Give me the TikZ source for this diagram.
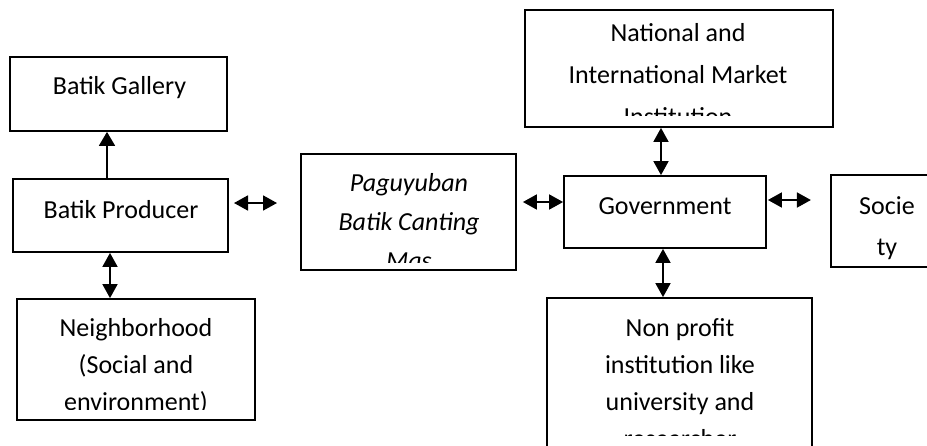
\documentclass[tikz,border=0pt]{standalone}
\usepackage{fontspec}
\setmainfont{Carlito}
\usepackage{tikz}
\usetikzlibrary{arrows.meta,calc}

\begin{document}
\begin{tikzpicture}[x=1pt,y=-1pt,
    box/.style={draw,line width=1.8pt,inner sep=0pt},
    lbl/.style={font=\fontsize{26}{38}\selectfont,align=center,inner sep=0pt},
    arr/.style={-{Triangle[width=16pt,length=14pt]},line width=1.8pt},
    darr/.style={{Triangle[width=15pt,length=14pt]}-{Triangle[width=15pt,length=14pt]},line width=1.8pt}]
  % Area
  \path[use as bounding box,clip] (0,0) rectangle (927,445);
  \fill[white] (0,0) rectangle (927,445);

  % Kolom kiri
  \node[box,minimum width=217pt,minimum height=74pt] (gallery) at (118.5,94) {};
  \node[lbl] (gallery-t) at (119.5,88) {Batik Gallery};
  \node[box,minimum width=215pt,minimum height=73pt] (producer) at (120.5,215.5) {};
  \node[lbl] (producer-t) at (121,210) {Batik Producer};
  \node[box,minimum width=238pt,minimum height=121pt] (nbh) at (136,359.5) {};
  \begin{scope}
    \clip (nbh.north west) rectangle ([shift={(0,-11)}]nbh.south east);
    \node[lbl,font=\fontsize{26}{37}\selectfont] (nbh-t) at (136,366)
      {Neighborhood\\(Social and\\environment)};
  \end{scope}

  % Paguyuban
  \node[box,minimum width=215pt,minimum height=116pt] (pag) at (408.5,212) {};
  \begin{scope}
    \clip (pag.north west) rectangle ([shift={(0,-8)}]pag.south east);
    \node[lbl,font=\fontsize{26}{39}\selectfont\itshape] (pag-t) at (409,222)
      {Paguyuban\\Batik Canting\\Mas};
  \end{scope}

  % Kolom kanan
  \node[box,minimum width=308pt,minimum height=117pt] (nat) at (679,68.5) {};
  \begin{scope}
    \clip (nat.north west) rectangle ([shift={(0,-12)}]nat.south east);
    \node[lbl,font=\fontsize{26}{42}\selectfont] (nat-t) at (678,75)
      {National and\\International Market\\Institution};
  \end{scope}
  \node[box,minimum width=202pt,minimum height=72pt] (gov) at (665,212) {};
  \node[lbl] (gov-t) at (665,206) {Government};
  \node[box,minimum width=99pt,minimum height=92pt] (soc) at (880.5,221) {};
  \node[lbl,font=\fontsize{26}{41}\selectfont] (soc-t) at (887,228) {Socie\\ty};
  \node[box,minimum width=265pt,minimum height=157pt] (np) at (679.5,376.5) {};
  \begin{scope}
    \clip (np.north west) rectangle (np.south east |- 0,435);
    \node[lbl,font=\fontsize{26}{37}\selectfont] (np-t) at (680,383)
      {Non profit\\institution like\\university and\\researcher};
  \end{scope}

  % Panah
  \draw[arr] ([xshift=-13.5pt]producer.north) -- ([xshift=-13.5pt]producer.north |- gallery.south);
  \draw[darr] ([xshift=-10.5pt]producer.south) -- ([xshift=-10.5pt]producer.south |- nbh.north);
  \coordinate (fl) at (234,203);
  \coordinate (fr) at (277,203);
  \draw[darr] (fl) -- (fr);
  \draw[darr] ([shift={(6,-10)}]pag.east) -- ([shift={(0,-10)}]gov.west);
  \draw[darr] ([xshift=-4pt]gov.north) -- ([xshift=-4pt]gov.north |- nat.south);
  \draw[darr] ([shift={(1,-12)}]gov.east) -- ++(43,0);
  \draw[darr] ([xshift=-2pt]gov.south) -- ([xshift=-2pt]gov.south |- np.north);
\end{tikzpicture}
\end{document}
